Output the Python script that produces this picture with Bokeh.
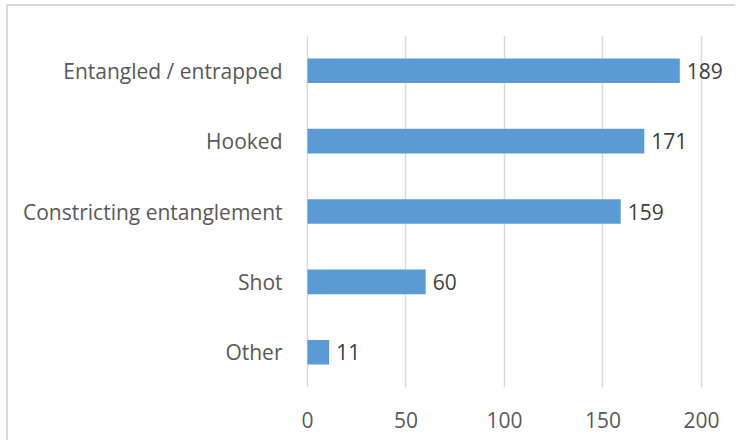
from bokeh.plotting import figure
from bokeh.models import ColumnDataSource, FactorRange, Range1d, FixedTicker
from bokeh.core.properties import value
from bokeh.embed import file_html
from bokeh.resources import INLINE

categories = ["Other", "Shot", "Constricting entanglement", "Hooked", "Entangled / entrapped"]
counts = [11, 60, 159, 171, 189]
x_ticks = [0, 50, 100, 150, 200]

FONT = "Open Sans"
BAR = "#5B9BD5"
GRID = "#D9D9D9"
TXT = "#595959"
FS = "21px"

src = ColumnDataSource(dict(cat=categories, val=counts, lab=[str(v) for v in counts]))

p = figure(width=729, height=436, output_backend="svg", toolbar_location=None,
           y_range=FactorRange(*categories, range_padding=0),
           x_range=Range1d(-1, 212.2),
           min_border_left=297, min_border_right=12, min_border_top=29, min_border_bottom=55)

p.hbar(y="cat", right="val", left=0, height=0.35, source=src, color=BAR, line_color=None)
p.text(x="val", y="cat", text="lab", source=src, x_offset=7, text_baseline="middle",
       text_align="left", text_font=value(FONT), text_font_size=FS, text_color="#404040")

p.outline_line_color = None
p.background_fill_color = "white"
p.border_fill_color = "white"

p.xgrid.ticker = FixedTicker(ticks=x_ticks)
p.xgrid.grid_line_color = GRID
p.xgrid.grid_line_width = 1.5
p.ygrid.grid_line_color = None

for ax in (p.xaxis, p.yaxis):
    ax.axis_line_color = None
    ax.major_tick_line_color = None
    ax.minor_tick_line_color = None
    ax.major_tick_out = 0
    ax.major_tick_in = 0
    ax.minor_tick_out = 0
    ax.minor_tick_in = 0
    ax.major_label_text_font = FONT
    ax.major_label_text_font_size = FS
    ax.major_label_text_color = TXT

p.xaxis.ticker = FixedTicker(ticks=x_ticks)
p.xaxis.major_label_standoff = 24
p.yaxis.major_label_standoff = 23

p.styles = {"border-top": "2px solid #D9D9D9", "border-left": "2px solid #D9D9D9",
            "margin-top": "4px", "margin-left": "6px"}

open("out.html", "w").write(file_html(p, INLINE))
